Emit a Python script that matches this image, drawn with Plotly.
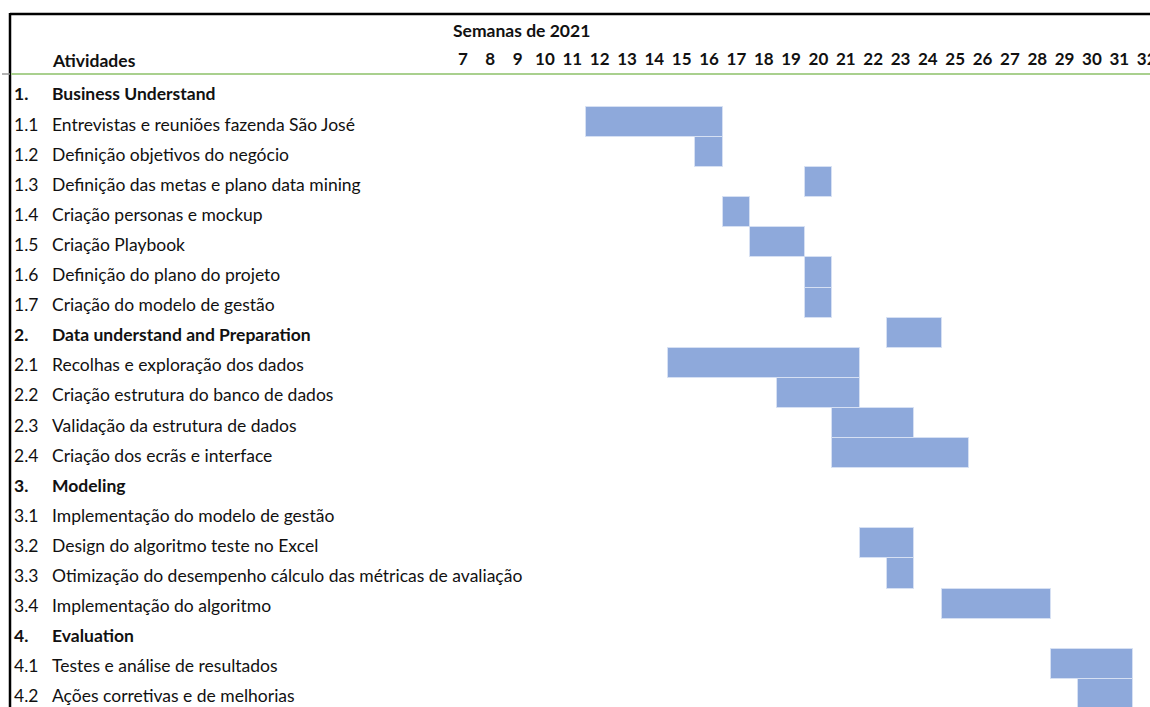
import plotly.graph_objects as go

W, H = 1150, 707

# ---- data ----
codes = ["1.", "1.1", "1.2", "1.3", "1.4", "1.5", "1.6", "1.7",
         "2.", "2.1", "2.2", "2.3", "2.4",
         "3.", "3.1", "3.2", "3.3", "3.4",
         "4.", "4.1", "4.2"]
activities = ["Business Understand",
              "Entrevistas e reuniões fazenda São José",
              "Definição objetivos do negócio",
              "Definição das metas e plano data mining",
              "Criação personas e mockup",
              "Criação Playbook",
              "Definição do plano do projeto",
              "Criação do modelo de gestão",
              "Data understand and Preparation",
              "Recolhas e exploração dos dados",
              "Criação estrutura do banco de dados",
              "Validação da estrutura de dados",
              "Criação dos ecrãs e interface",
              "Modeling",
              "Implementação do modelo de gestão",
              "Design do algoritmo teste no Excel",
              "Otimização do desempenho cálculo das métricas de avaliação",
              "Implementação do algoritmo",
              "Evaluation",
              "Testes e análise de resultados",
              "Ações corretivas e de melhorias"]
is_header = [True, False, False, False, False, False, False, False,
             True, False, False, False, False,
             True, False, False, False, False,
             True, False, False]
start_week = [None, 12, 16, 20, 17, 18, 20, 20,
              23, 15, 19, 21, 21,
              None, None, 22, 23, 25,
              None, 29, 30]
end_week = [None, 16, 16, 20, 17, 19, 20, 20,
            24, 21, 21, 23, 25,
            None, None, 23, 23, 28,
            None, 31, 31]
weeks = list(range(7, 33))
title_text = "Semanas de 2021"
col_header = "Atividades"

# ---- geometry (pixel mapping) ----
col_w = 27.35
col12_left = 586.0
x0 = 11.5 - col12_left / col_w
x1 = 11.5 + (W - col12_left) / col_w
row_h = 30.1
row0_center = 91.9
y_top = (0 - row0_center) / row_h
y_bot = (H - row0_center) / row_h

FONT = "Lato"
FS = 17.5
BAR_COLOR = "#8EA9DB"
TXT = "#111111"

bar_y, bar_base, bar_len = [], [], []
for i, (s, e) in enumerate(zip(start_week, end_week)):
    if s is None:
        continue
    bar_y.append(i)
    bar_base.append(s - 0.5)
    bar_len.append(e - s + 1)

fig = go.Figure()
fig.add_trace(go.Bar(
    y=bar_y, x=bar_len, base=bar_base, orientation="h", width=1,
    marker=dict(color=BAR_COLOR, line=dict(color="#D6E0F3", width=1)),
    hoverinfo="skip", showlegend=False,
))

# week numbers
fig.add_trace(go.Scatter(
    x=weeks, y=[(61 - row0_center) / row_h] * len(weeks),
    mode="text", text=[f"<b>{w}</b>" for w in weeks],
    textfont=dict(family=FONT, size=FS - 0.5, color=TXT),
    hoverinfo="skip", showlegend=False, cliponaxis=False,
))

annotations = []
for i, (c, a, hdr) in enumerate(zip(codes, activities, is_header)):
    ct = f"<b>{c}</b>" if hdr else c
    at = f"<b>{a}</b>" if hdr else a
    annotations.append(dict(x=12 / W, xref="paper", y=i, yref="y", yshift=-2,
                            text=ct, showarrow=False, xanchor="left",
                            font=dict(family=FONT, size=FS, color=TXT)))
    annotations.append(dict(x=50 / W, xref="paper", y=i, yref="y", yshift=-2,
                            text=at, showarrow=False, xanchor="left",
                            font=dict(family=FONT, size=FS, color=TXT)))
annotations.append(dict(x=50 / W, xref="paper", y=1 - 61 / H, yref="paper",
                        text=f"<b>{col_header}</b>", showarrow=False, xanchor="left",
                        yanchor="middle", font=dict(family=FONT, size=FS, color=TXT)))
annotations.append(dict(x=451 / W, xref="paper", y=1 - 31 / H, yref="paper",
                        text=f"<b>{title_text}</b>", showarrow=False, xanchor="left",
                        yanchor="middle", font=dict(family=FONT, size=FS, color=TXT)))

shapes = [
    dict(type="line", xref="paper", yref="paper", x0=10 / W, x1=1, y0=1 - 14 / H, y1=1 - 14 / H,
         line=dict(color="#000", width=2.5)),
    dict(type="line", xref="paper", yref="paper", x0=10 / W, x1=10 / W, y0=1 - 13 / H, y1=0,
         line=dict(color="#000", width=2.5)),
    dict(type="line", xref="paper", yref="paper", x0=11 / W, x1=1, y0=1 - 74 / H, y1=1 - 74 / H,
         line=dict(color="#A9D08E", width=2)),
    dict(type="line", xref="paper", yref="paper", x0=2 / W, x1=10 / W, y0=1 - 74 / H, y1=1 - 74 / H,
         line=dict(color="#999", width=1.5)),
]

fig.update_layout(
    width=W, height=H, margin=dict(l=0, r=0, t=0, b=0),
    paper_bgcolor="white", plot_bgcolor="white",
    xaxis=dict(range=[x0, x1], visible=False, fixedrange=True),
    yaxis=dict(range=[y_bot, y_top], visible=False, fixedrange=True),
    annotations=annotations, shapes=shapes, bargap=0,
)
fig.write_html("out.html")
